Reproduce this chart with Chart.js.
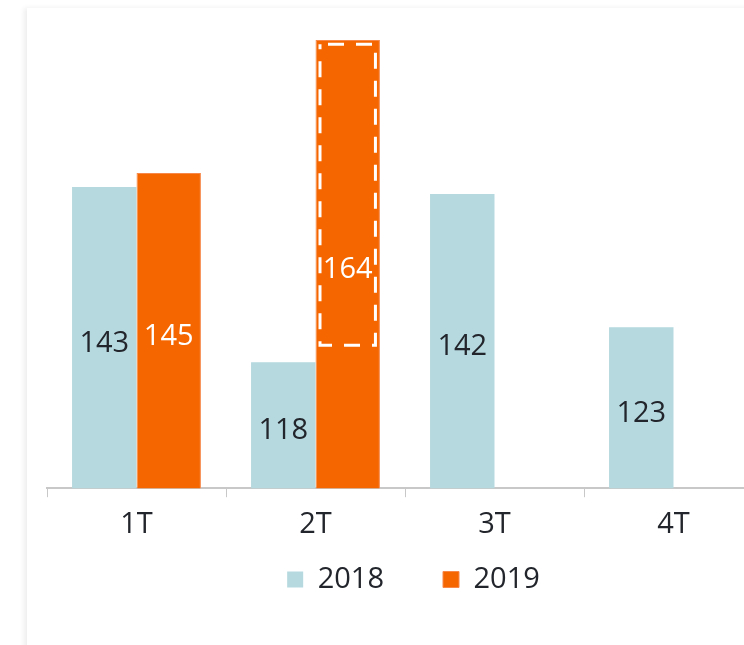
<!DOCTYPE html>
<html>
<head>
<meta charset="utf-8">
<script src="https://cdn.jsdelivr.net/npm/chart.js@4.4.1/dist/chart.umd.min.js"></script>
<style>
  html, body { margin: 0; padding: 0; background: #fff; overflow: hidden; }
  body { width: 744px; height: 645px; position: relative; }
  /* mép thẻ có bóng nhẹ bên trái */
  .card {
    position: absolute; left: 27px; top: 8px; width: 772px; height: 700px;
    background: #fff; box-shadow: -3px 0 5px rgba(0,0,0,0.07);
  }
  .wrap { position: absolute; left: 27px; top: 0; width: 772px; height: 645px; }
</style>
</head>
<body>
<div class="card"></div>
<div class="wrap"><canvas id="myChart" width="772" height="645"></canvas></div>
<script>
// dữ liệu
var categories = ['1T', '2T', '3T', '4T'];
var seriesNames = ['2018', '2019'];
var values2018 = [143, 118, 142, 123];
var values2019 = [145, 164, null, null];
var yMin = 100;
var yMax = 165;
// vùng khung nét đứt trong cột 2T-2019 (theo giá trị trục y)
var dashedRange = [120.4, 163.4];

var blue = '#b5d9df';
var orange = '#f56600';
var textColor = '#22252b';
var fontFamily = '"Open Sans", "Noto Sans", sans-serif';
var fontSize = 29;

// nhãn giá trị ở giữa cột
var valueLabels = {
  id: 'valueLabels',
  afterDatasetsDraw: function (chart) {
    var c = chart.ctx;
    var bottom = chart.chartArea.bottom;
    c.save();
    c.font = fontSize + 'px ' + fontFamily;
    c.textAlign = 'center';
    c.textBaseline = 'middle';
    chart.data.datasets.forEach(function (ds, i) {
      var meta = chart.getDatasetMeta(i);
      meta.data.forEach(function (bar, j) {
        var v = ds.data[j];
        if (v === null || v === undefined) return;
        c.fillStyle = i === 0 ? textColor : '#ffffff';
        c.fillText(String(v), bar.x, (bar.y + bottom) / 2 + 6);
      });
    });
    c.restore();
  }
};

// khung nét đứt trắng
var dashedBox = {
  id: 'dashedBox',
  afterDatasetsDraw: function (chart) {
    var bar = chart.getDatasetMeta(1).data[1];
    if (!bar) return;
    var y = chart.scales.y;
    var c = chart.ctx;
    var half = bar.width / 2;
    var x0 = bar.x - half + 4.5, x1 = bar.x + half - 4.5;
    var yTop = y.getPixelForValue(dashedRange[1]);
    var yBot = y.getPixelForValue(dashedRange[0]);
    c.save();
    c.strokeStyle = '#ffffff';
    c.lineWidth = 3;
    c.setLineDash([16, 12]);
    c.lineDashOffset = -8;
    c.strokeRect(x0, yTop, x1 - x0, yBot - yTop);
    c.restore();
  }
};

// kéo chú thích lên gần trục
var legendShift = {
  id: 'legendShift',
  afterLayout: function (chart) {
    if (chart.legend) {
      chart.legend.top -= 46;
      chart.legend.bottom -= 46;
    }
  }
};

var chart = new Chart(document.getElementById('myChart').getContext('2d'), {
  type: 'bar',
  data: {
    labels: categories,
    datasets: [{
      label: seriesNames[0],
      data: values2018,
      backgroundColor: blue,
      borderWidth: 0
    }, {
      label: seriesNames[1],
      data: values2019,
      backgroundColor: orange,
      borderColor: '#f7884a',
      borderWidth: 1
    }]
  },
  options: {
    responsive: false,
    animation: false,
    layout: { padding: { left: 20, right: 19, top: 33, bottom: -5 } },
    datasets: { bar: { categoryPercentage: 0.72, barPercentage: 1 } },
    plugins: {
      legend: {
        position: 'bottom',
        labels: {
          boxWidth: 16, boxHeight: 16, padding: 59,
          color: textColor,
          font: { size: fontSize, family: fontFamily }
        }
      },
      tooltip: { enabled: false }
    },
    scales: {
      x: {
        grid: { drawOnChartArea: false, drawTicks: true, tickLength: 9, color: '#c8c8c8', offset: true },
        border: { color: '#c8c8c8', width: 2 },
        ticks: { color: textColor, padding: 10, font: { size: fontSize, family: fontFamily } }
      },
      y: {
        position: 'right',
        min: yMin,
        max: yMax,
        grid: { display: false },
        border: { display: false },
        ticks: { display: false },
        afterFit: function (s) { s.width = 17; }
      }
    }
  },
  plugins: [valueLabels, dashedBox, legendShift]
});
</script>
</body>
</html>
